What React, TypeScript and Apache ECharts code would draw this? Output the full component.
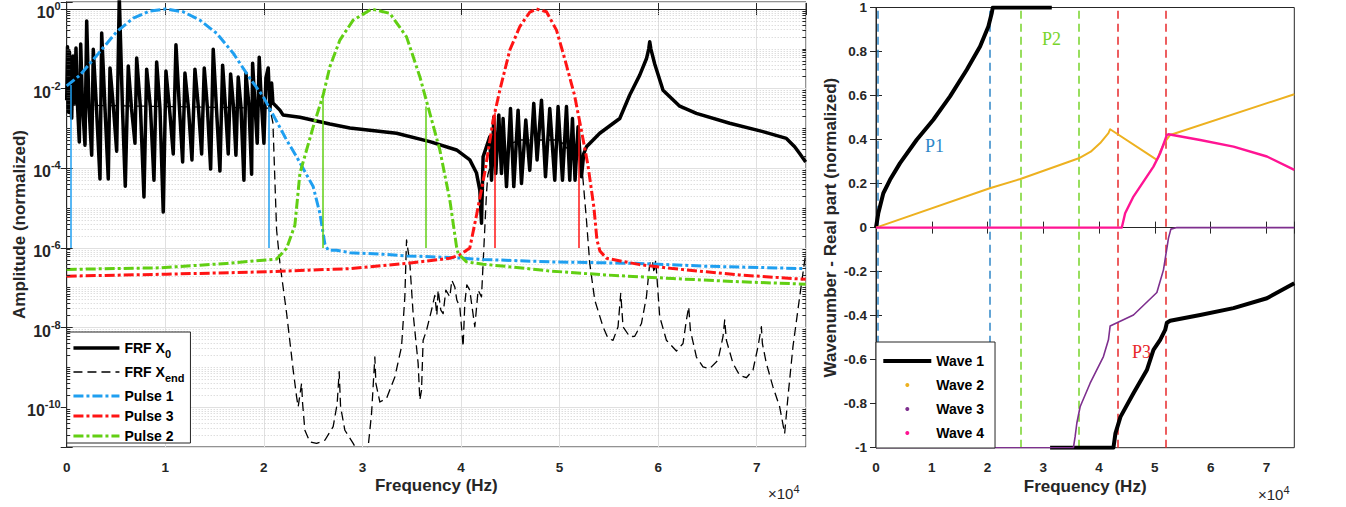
import React, { useEffect, useRef } from 'react';
import * as echarts from 'echarts';

const FONT = '"Liberation Sans", Arial, Helvetica, sans-serif';
const SERIF = '"Liberation Serif", "Times New Roman", serif';
const INK = '#262626';
const BLUE = '#1f9ff0';
const RED = '#ff1414';
const GREEN = '#62cf13';
const BLUE2 = '#2f87c8';
const GREEN2 = '#77d42a';
const RED2 = '#e8282b';

// ---------- Left plot: frequency (Hz) vs log10(amplitude) ----------
const frfX0: number[][] = [
  [0, -2.29], [81, -0.95], [183, -2.59], [284, -1.08], [385, -2.41], [507, -2.74], [639, -1.18], [791, -2.36],
  [943, -0.98], [1095, -2.41], [1278, -3.34], [1420, -0.88], [1602, -2.41], [1856, -3.42], [2028, -0.3],
  [2261, -2.46], [2535, -3.67], [2697, -1.01], [3022, -2.49], [3377, -4.27], [3549, -0.6], [3884, -2.49],
  [4218, -4.27], [4391, -1.48], [4746, -2.49], [5070, -3.57], [5334, 0.3], [5658, -2.49], [5942, -4.45],
  [6246, -1.43], [6571, -2.49], [6926, -3.37], [7098, -1.23], [7483, -2.49], [7838, -4.72], [8112, -1.51],
  [8497, -2.49], [8852, -4.3], [9126, -1.33], [9461, -2.49], [9795, -5.1], [10069, -1.56], [10424, -2.49],
  [10809, -3.64], [11083, -0.9], [11438, -2.49], [11762, -3.84], [11996, -1.61], [12351, -2.49], [12706, -3.79],
  [13010, -1.51], [13365, -2.49], [13689, -3.64], [13953, -1.48], [14277, -2.49], [14602, -4.02], [14865, -1.01],
  [15190, -2.49], [15545, -4.07], [15818, -1.41], [16102, -2.46], [16386, -3.64], [16630, -1.63], [16914, -2.44],
  [17167, -3.67], [17400, -1.71], [17674, -2.44], [17978, -4.3], [18181, -1.61], [18485, -2.41], [18759, -4.15],
  [18860, -1.36], [19094, -2.39], [19327, -3.37], [19530, -1.21], [19753, -2.36], [20007, -3.37], [20210, -1.73],
  [20443, -1.48], [20616, -2.54], [20788, -1.86], [20920, -2.36],
  [21630, -2.54], [21940, -2.66], [23657, -2.72], [26700, -2.89], [28730, -2.99], [33462, -3.12], [36840, -3.33],
  [39548, -3.54], [40895, -3.79], [41575, -4.12], [41910, -4.55], [42081, -5.38],
  [42243, -3.71], [42923, -3.21], [43095, -4.3], [43328, -2.71], [43531, -4.13], [43835, -2.66], [44109, -4.13],
  [44271, -2.75], [44616, -4.46], [45022, -2.5], [45356, -4.46], [45792, -2.54], [46137, -4.38], [46573, -2.79],
  [46978, -4.05], [47384, -2.37], [47719, -3.79], [48165, -2.29], [48571, -4.21], [49007, -2.5], [49514, -4.3],
  [49849, -2.45], [50295, -4.3], [50700, -2.45], [51035, -4.3], [51308, -2.75], [51572, -4.3], [51876, -2.96],
  [52221, -4.21], [52454, -3.63], [52728, -3.46], [54077, -3.12], [56105, -2.75], [57118, -2.16], [58133, -1.66],
  [58812, -1.25], [59050, -1.0], [59146, -0.82], [59260, -1.0], [59653, -1.38], [60497, -2.04], [62190, -2.44],
  [63882, -2.62], [67259, -2.87], [70636, -3.08], [73010, -3.25], [73850, -3.46], [74357, -3.63], [74966, -3.84],
];

const frfXend: number[][] = [
  [0, -2.41], [20614, -2.49], [20920, -2.86], [21294, -5.55], [21629, -6.38], [22308, -7.64], [22977, -9.07],
  [23322, -9.74], [23484, -9.99], [23829, -9.4], [23930, -9.9], [24163, -10.58], [24670, -10.87], [25350, -10.91],
  [26191, -10.83], [27033, -10.49], [27439, -9.91], [27642, -9.11], [27784, -9.99], [28220, -10.58], [29061, -10.91],
  [29740, -11.2], [30349, -11.28], [30582, -11.0], [30927, -10.16], [31262, -8.74], [31364, -9.4], [31769, -9.87],
  [32448, -9.78], [33290, -9.24], [33969, -8.48], [34304, -7.23], [34476, -5.8], [34811, -6.39], [35145, -7.65],
  [35652, -8.9], [35825, -9.82], [35997, -9.57], [36159, -8.32], [36504, -8.07], [37011, -7.56], [37346, -7.19],
  [37549, -7.69], [37681, -7.06], [37955, -7.56], [38189, -7.65], [38463, -7.06], [38867, -7.23], [39070, -6.81],
  [39374, -6.98], [39577, -7.31], [39881, -7.48], [40215, -8.48], [40388, -7.39], [40590, -6.93], [40895, -7.06],
  [41098, -7.44], [41402, -7.98], [41737, -7.06], [42081, -7.23], [42243, -6.39], [42588, -4.62], [42720, -4.17],
  [43430, -3.54], [45965, -3.29], [50020, -3.29], [52250, -3.92], [52384, -4.3], [52728, -5.3], [53063, -6.39],
  [53570, -7.31], [54411, -7.98], [54918, -8.27], [55425, -8.32], [55932, -7.98], [56206, -7.14], [56439, -7.98],
  [57119, -8.23], [57626, -8.22], [58305, -7.9], [58812, -7.23], [59147, -6.39], [59420, -6.31], [59583, -6.63],
  [59755, -6.31], [60161, -7.73], [60840, -8.32], [61854, -8.59], [62523, -8.4], [62868, -7.81], [63101, -7.48],
  [63274, -8.07], [63882, -8.74], [64551, -8.99], [65230, -9.03], [66072, -8.82], [66579, -8.23], [66752, -7.81],
  [66924, -8.32], [67593, -8.9], [68273, -9.2], [68952, -9.26], [69621, -9.07], [70128, -8.48], [70473, -7.98],
  [70574, -8.4], [70980, -8.9], [71649, -9.49], [72328, -9.99], [72835, -10.66], [73170, -9.74], [73677, -8.48],
  [74357, -7.23], [74966, -6.14],
];

const pulse1: number[][] = [
  [0, -1.93], [1349, -1.66], [3377, -1.07], [5070, -0.57], [6753, -0.23], [8446, -0.05], [10039, 0],
  [11823, -0.07], [13516, -0.28], [15210, -0.61], [16893, -1.11], [18586, -1.74], [19935, -2.2], [20949, -2.66],
  [22308, -3.29], [23322, -3.71], [25005, -4.46], [25684, -5.13], [26191, -5.9], [26526, -6.06], [27378, -6.06],
  [28727, -6.12], [32103, -6.16], [34476, -6.2], [38867, -6.24], [42243, -6.29], [49007, -6.35], [58133, -6.39],
  [64896, -6.46], [74966, -6.52],
];

const pulse3: number[][] = [
  [0, -6.71], [10140, -6.66], [20280, -6.6], [28727, -6.52], [34476, -6.39], [38867, -6.26], [39881, -6.18],
  [40895, -6.0], [41575, -5.18], [42416, -4.1], [43260, -2.79], [43939, -2.04], [44954, -1.03], [45968, -0.44],
  [46982, -0.08], [47660, 0], [48674, -0.07], [49688, -0.53], [50499, -1.23], [51513, -2.16], [52168, -2.99],
  [52878, -3.92], [53487, -4.99], [53791, -5.8], [54096, -6.08], [54756, -6.26], [58133, -6.42], [61508, -6.52],
  [64896, -6.6], [68273, -6.68], [74966, -6.79],
];

const pulse2: number[][] = [
  [0, -6.54], [9461, -6.5], [16224, -6.39], [21294, -6.28], [22308, -6.01], [23150, -5.43], [23657, -4.13],
  [25005, -2.96], [26019, -2.16], [26700, -1.45], [27714, -0.78], [29061, -0.28], [30927, 0], [32783, -0.11],
  [34476, -0.7], [35825, -1.7], [36840, -2.62], [37854, -3.54], [38868, -4.8], [39548, -5.97], [39710, -6.14],
  [40560, -6.35], [42243, -6.41], [45630, -6.49], [49007, -6.58], [54756, -6.68], [61508, -6.77], [68273, -6.85],
  [74966, -6.91],
];

// pulse window edges: [frequency, log10 amplitude at top]
const pulse1Edges: number[][] = [[400, -1.91], [20450, -2.45]];
const pulse2Edges: number[][] = [[25950, -2.15], [36430, -2.45]];
const pulse3Edges: number[][] = [[43430, -2.6], [51975, -2.72]];
const edgeFloor = -6;

// ---------- Right plot: normalized wavenumber (real part) ----------
const wave1Upper: number[][] = [
  [0, 0], [413, 0.065], [1310, 0.156], [2512, 0.217], [4306, 0.293], [7302, 0.399], [10280, 0.49], [13276, 0.596],
  [16272, 0.717], [18658, 0.823], [20147, 0.914], [20757, 0.975], [20936, 1.0], [31520, 1.0],
];
const wave1Lower: number[][] = [
  [31216, -1], [42572, -1], [42931, -0.935], [43829, -0.86], [46161, -0.753], [48564, -0.647], [49748, -0.556],
  [50950, -0.51], [51847, -0.465], [52152, -0.432], [52744, -0.423], [58126, -0.397], [64100, -0.366],
  [70092, -0.321], [75000, -0.253],
];
const wave2: number[][] = [
  [0, 0], [20398, 0.179], [25887, 0.221], [36364, 0.315], [38500, 0.345], [40200, 0.384], [41675, 0.429],
  [41980, 0.447], [50358, 0.308], [50645, 0.32], [50950, 0.345], [51847, 0.391], [52744, 0.421], [75000, 0.606],
];
const wave3: number[][] = [
  [0, -1], [35396, -1], [35701, -0.95], [36006, -0.889], [36598, -0.814], [38392, -0.707], [40778, -0.586],
  [41675, -0.51], [41980, -0.447], [46161, -0.397], [50358, -0.295], [51542, -0.192], [52152, -0.094],
  [52439, -0.048], [52870, -0.007], [53946, 0], [75000, 0],
];
const wave4: number[][] = [
  [0, 0], [44078, 0], [44670, 0.065], [46161, 0.141], [47955, 0.209], [49748, 0.277], [50950, 0.338],
  [51847, 0.399], [52152, 0.421], [52439, 0.424], [58126, 0.398], [64100, 0.368], [70092, 0.323], [75000, 0.262],
];

const p1Lines = [400, 20450];
const p2Lines = [25950, 36430];
const p3Lines = [43430, 51975];

const xMax = 75000;
const yLogMin = -11;
const yLogMax = 0.176;

function buildOption() {
  const minorLogs: number[] = [];
  for (let n = -11; n <= 0; n++) {
    for (let m = 1; m <= 9; m++) {
      const v = n + Math.log10(m);
      if (v <= yLogMin + 1e-9 || v >= yLogMax) continue;
      if (m === 1 && n % 2 === 0) continue;
      minorLogs.push(v);
    }
  }
  const minorTickLen = 360;
  const minorTickSegs: any[] = [];
  minorLogs.forEach((v) => {
    minorTickSegs.push([{ coord: [0, v] }, { coord: [minorTickLen, v] }]);
    minorTickSegs.push([{ coord: [xMax - minorTickLen, v] }, { coord: [xMax, v] }]);
  });

  const tickFont = { fontFamily: FONT, fontSize: 13.5, fontWeight: 'bold', color: INK };
  const nameFont = { fontFamily: FONT, fontSize: 17, fontWeight: 'bold', color: INK };

  const baseLine = (name: string, data: number[][], color: string, width: number, type: any, xi: number) => ({
    name,
    type: 'line',
    xAxisIndex: xi,
    yAxisIndex: xi,
    data,
    showSymbol: false,
    symbol: 'none',
    silent: true,
    itemStyle: { color },
    lineStyle: { color, width, type, join: 'round' },
  });

  const edgeMark = (edges: number[][], color: string) => ({
    silent: true,
    symbol: ['none', 'none'],
    label: { show: false },
    lineStyle: { color, width: 1.5, type: 'solid' },
    data: edges.map(([x, top]) => [{ coord: [x, edgeFloor] }, { coord: [x, top] }]),
  });

  const vDash = (xs: number[], color: string) =>
    xs.map((x) => ({ xAxis: x, lineStyle: { color, width: 1.5, type: [8, 5] } }));

  const axisCommon = {
    axisLine: { show: true, lineStyle: { color: INK, width: 1 } },
    axisTick: { show: true, inside: true, length: 6, lineStyle: { color: INK } },
  };

  return {
    animation: false,
    backgroundColor: '#ffffff',
    grid: [
      {
        left: 66.7, top: 2, width: 739.3, height: 445, show: true, borderColor: INK, borderWidth: 1,
        containLabel: false, outerBoundsMode: 'none',
      },
      {
        left: 876, top: 7.5, width: 418.3, height: 440.2, show: true, borderColor: INK, borderWidth: 1,
        containLabel: false, outerBoundsMode: 'none',
      },
    ],
    xAxis: [
      {
        gridIndex: 0, type: 'value', min: 0, max: xMax, interval: 10000,
        name: 'Frequency (Hz)', nameLocation: 'middle', nameGap: 30, nameTextStyle: nameFont, nameMoveOverlap: false,
        ...axisCommon,
        axisLabel: { ...tickFont, margin: 13, formatter: (v: number) => (v % 10000 === 0 ? String(v / 10000) : '') },
        splitLine: { show: true, lineStyle: { color: '#e0e0e0', width: 1 } },
      },
      {
        gridIndex: 1, type: 'value', min: 0, max: xMax, interval: 10000,
        name: 'Frequency (Hz)', nameLocation: 'middle', nameGap: 30, nameTextStyle: nameFont, nameMoveOverlap: false,
        ...axisCommon,
        axisLabel: { ...tickFont, margin: 13, formatter: (v: number) => (v % 10000 === 0 ? String(v / 10000) : '') },
        splitLine: { show: false },
      },
      {
        gridIndex: 0, type: 'value', min: 0, max: xMax, interval: 10000, position: 'top',
        ...axisCommon, axisLabel: { show: false }, splitLine: { show: false },
      },
      {
        gridIndex: 1, type: 'value', min: 0, max: xMax, interval: 10000, position: 'top',
        ...axisCommon, axisLabel: { show: false }, splitLine: { show: false },
      },
    ],
    yAxis: [
      {
        gridIndex: 0, type: 'value', min: yLogMin, max: yLogMax, splitNumber: 5,
        name: 'Amplitude (normalized)', nameLocation: 'middle', nameGap: 39, nameTextStyle: nameFont,
        nameMoveOverlap: false,
        ...axisCommon,
        axisLabel: {
          margin: 6,
          formatter: (v: number) => {
            const r = Math.round(v);
            if (Math.abs(v - r) > 1e-6 || r % 2 !== 0) return '';
            return `{b|10}{s|${r === 0 ? 0 : r}}`;
          },
          rich: {
            b: { fontFamily: FONT, fontSize: 16, fontWeight: 'bold', color: INK, padding: [7, 0, 0, 0] },
            s: { fontFamily: FONT, fontSize: 11, fontWeight: 'bold', color: INK, padding: [0, 0, 6, 0] },
          },
        },
        splitLine: { show: true, lineStyle: { color: '#e0e0e0', width: 1 } },
      },
      {
        gridIndex: 1, type: 'value', min: -1, max: 1, interval: 0.2,
        name: 'Wavenumber - Real part (normalized)', nameLocation: 'middle', nameGap: 37, nameTextStyle: nameFont,
        nameMoveOverlap: false,
        ...axisCommon,
        axisLabel: { ...tickFont, margin: 9, formatter: (v: number) => String(Number(v.toFixed(1))) },
        splitLine: { show: false },
      },
      {
        gridIndex: 0, type: 'value', min: yLogMin, max: yLogMax, splitNumber: 5, position: 'right',
        ...axisCommon, axisLabel: { show: false }, splitLine: { show: false },
      },
      {
        gridIndex: 1, type: 'value', min: -1, max: 1, interval: 0.2, position: 'right',
        ...axisCommon, axisLabel: { show: false }, splitLine: { show: false },
      },
    ],
    legend: [
      {
        orient: 'vertical', left: 66.7, top: 332, itemWidth: 46, itemHeight: 10, itemGap: 6,
        padding: [9, 6, 0, 5], borderColor: INK, borderWidth: 1, backgroundColor: '#ffffff',
        selectedMode: false,
        itemStyle: { opacity: 0, borderWidth: 0 },
        data: [
          { name: 'FRF X0', lineStyle: { width: 3.5 } },
          { name: 'FRF Xend', lineStyle: { width: 1.3 } },
          { name: 'Pulse 1', lineStyle: { width: 3 } },
          { name: 'Pulse 3', lineStyle: { width: 3 } },
          { name: 'Pulse 2', lineStyle: { width: 3 } },
        ],
        formatter: (name: string) => {
          if (name === 'FRF X0') return '{m|FRF X}{s|0}';
          if (name === 'FRF Xend') return '{m|FRF X}{s|end}';
          return `{m|${name}}`;
        },
        textStyle: {
          fontFamily: FONT, fontSize: 14, fontWeight: 'bold', color: '#000',
          rich: {
            m: { fontFamily: FONT, fontSize: 14, fontWeight: 'bold', color: '#000' },
            s: { fontFamily: FONT, fontSize: 11, fontWeight: 'bold', color: '#000', padding: [11, 0, 0, 0] },
          },
        },
      },
      {
        orient: 'vertical', left: 876, top: 342, itemWidth: 48, itemHeight: 4, itemGap: 10,
        padding: [12, 11, 8, 7.3], borderColor: INK, borderWidth: 1, backgroundColor: '#ffffff',
        selectedMode: false,
        data: [
          { name: 'Wave 1', icon: 'rect' },
          { name: 'Wave 2', icon: 'circle' },
          { name: 'Wave 3', icon: 'circle' },
          { name: 'Wave 4', icon: 'circle' },
        ],
        textStyle: { fontFamily: FONT, fontSize: 14, fontWeight: 'bold', color: '#000' },
      },
    ],
    graphic: [
      {
        type: 'text', left: 768, top: 483, silent: true,
        style: {
          text: '{a|×10}{b|4}',
          rich: {
            a: { fontFamily: FONT, fontSize: 15, fill: INK, color: INK },
            b: { fontFamily: FONT, fontSize: 11, fill: INK, color: INK, padding: [0, 0, 9, 0] },
          },
        },
      },
      {
        type: 'text', left: 1258, top: 484, silent: true,
        style: {
          text: '{a|×10}{b|4}',
          rich: {
            a: { fontFamily: FONT, fontSize: 15, fill: INK, color: INK },
            b: { fontFamily: FONT, fontSize: 11, fill: INK, color: INK, padding: [0, 0, 9, 0] },
          },
        },
      },
      { type: 'text', left: 925, top: 137, silent: true, style: { text: 'P1', font: `18px ${SERIF}`, fill: BLUE2 } },
      { type: 'text', left: 1042, top: 30, silent: true, style: { text: 'P2', font: `18px ${SERIF}`, fill: GREEN2 } },
      { type: 'text', left: 1132, top: 343, silent: true, style: { text: 'P3', font: `18px ${SERIF}`, fill: RED2 } },
    ],
    series: [
      {
        name: '_minorGrid', type: 'line', xAxisIndex: 0, yAxisIndex: 0, data: [], silent: true,
        markLine: {
          silent: true, z: 1, symbol: ['none', 'none'], label: { show: false },
          lineStyle: { color: '#cfcfcf', width: 1, type: [1, 2] },
          data: minorLogs.map((v) => ({ yAxis: v })),
        },
      },
      {
        name: '_minorTicks', type: 'line', xAxisIndex: 0, yAxisIndex: 0, data: [], silent: true,
        markLine: {
          silent: true, symbol: ['none', 'none'], label: { show: false },
          lineStyle: { color: INK, width: 1, type: 'solid' },
          data: minorTickSegs,
        },
      },
      baseLine('FRF X0', frfX0, '#000000', 3.5, 'solid', 0),
      baseLine('FRF Xend', frfXend, '#000000', 1.3, [9, 5], 0),
      { ...baseLine('Pulse 1', pulse1, BLUE, 3, [10, 3, 3, 3], 0), markLine: edgeMark(pulse1Edges, BLUE) },
      { ...baseLine('Pulse 3', pulse3, RED, 3, [10, 3, 3, 3], 0), markLine: edgeMark(pulse3Edges, RED) },
      { ...baseLine('Pulse 2', pulse2, GREEN, 3, [10, 3, 3, 3], 0), markLine: edgeMark(pulse2Edges, GREEN) },
      {
        name: '_pulseBands', type: 'line', xAxisIndex: 1, yAxisIndex: 1, data: [], silent: true,
        markLine: {
          silent: true, z: 1, symbol: ['none', 'none'], label: { show: false },
          data: [...vDash(p1Lines, BLUE2), ...vDash(p2Lines, GREEN2), ...vDash(p3Lines, RED2)],
        },
      },
      baseLine('Wave 1', wave1Upper, '#000000', 4, 'solid', 1),
      baseLine('Wave 1', wave1Lower, '#000000', 4, 'solid', 1),
      baseLine('Wave 2', wave2, '#EDB120', 2, 'solid', 1),
      baseLine('Wave 3', wave3, '#7E2F8E', 1.6, 'solid', 1),
      baseLine('Wave 4', wave4, '#FF1493', 2.4, 'solid', 1),
    ],
  };
}

export default function App() {
  const ref = useRef<HTMLDivElement>(null);
  useEffect(() => {
    if (!ref.current) return;
    const chart = echarts.init(ref.current, null, { renderer: 'svg' });
    chart.setOption(buildOption() as any);
    return () => chart.dispose();
  }, []);
  return (
    <div
      ref={ref}
      style={{ position: 'absolute', left: 0, top: 0, width: 1346, height: 507, background: '#ffffff' }}
    />
  );
}
